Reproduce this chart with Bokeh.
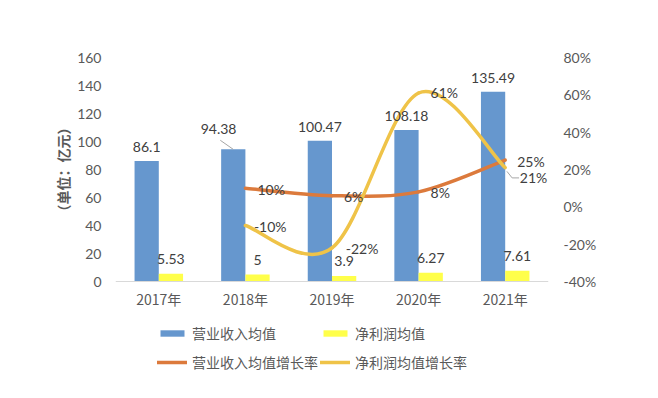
from bokeh.plotting import figure
from bokeh.models import (ColumnDataSource, Range1d, LinearAxis, LabelSet, Legend, Span, Title,
                          LegendItem, PrintfTickFormatter, FixedTicker)
from bokeh.core.properties import value
from bokeh.embed import file_html
from bokeh.resources import INLINE

# ---- data ----
years = ["2017年", "2018年", "2019年", "2020年", "2021年"]
revenue = [86.1, 94.38, 100.47, 108.18, 135.49]
profit = [5.53, 5, 3.9, 6.27, 7.61]
growth_years = ["2018年", "2019年", "2020年", "2021年"]
revenue_growth = [10, 6, 8, 25]
profit_growth = [-10, -22, 61, 21]
left_ticks = [0, 20, 40, 60, 80, 100, 120, 140, 160]
right_ticks = [-40, -20, 0, 20, 40, 60, 80]

# ---- style / layout ----
BLUE = "#6697CE"
YELLOW = "#FFFF4A"
ORANGE = "#DC7A3C"
GOLD = "#EFC348"
TICK = "#595959"
LBL = "#404040"
NUM_FONT = "Lato"
CJK_FONT = "Noto Sans CJK SC"
BW = 0.28
PLOT_H = 224          # px between 0 and the top tick
EXTRA_H = 99          # px below the zero line kept for category labels and legend
rev_label_dx = [0, -0.17, 0, 0, 0]     # data-unit nudges of the revenue labels
rev_label_dy = [14, 20, 14, 14, 14]

xi = list(range(len(years)))
gx = [years.index(y) for y in growth_years]

lo, hi = left_ticks[0], left_ticks[-1]
rlo, rhi = right_ticks[0], right_ticks[-1]
y_start = lo - EXTRA_H * (hi - lo) / PLOT_H
r_start = rlo - EXTRA_H * (rhi - rlo) / PLOT_H

p = figure(frame_width=433, frame_height=PLOT_H + EXTRA_H, x_range=Range1d(-0.5, len(years) - 0.5),
           y_range=Range1d(y_start, hi),
           output_backend="svg", toolbar_location=None,
           min_border_left=115, min_border_right=95, min_border_top=57, min_border_bottom=8)
p.extra_y_ranges = {"pct": Range1d(r_start, rhi)}
p.outline_line_color = None
p.xgrid.visible = False
p.ygrid.visible = False
p.background_fill_color = "white"
p.border_fill_color = "white"
p.xaxis.visible = False

# zero line (category axis line)
p.add_layout(Span(location=lo, dimension="width", line_color="#D9D9D9", line_width=1))

# bars
bsrc = ColumnDataSource(dict(xb=[i - BW / 2 for i in xi], xy=[i + BW / 2 for i in xi],
                             xl=[i - BW / 2 + d for i, d in zip(xi, rev_label_dx)],
                             rev=revenue, pro=profit,
                             rev_t=[f"{v:g}" for v in revenue], pro_t=[f"{v:g}" for v in profit],
                             rev_dy=rev_label_dy))
r_rev = p.vbar(x="xb", top="rev", width=BW, source=bsrc, fill_color=BLUE, line_color=None)
r_pro = p.vbar(x="xy", top="pro", width=BW, source=bsrc, fill_color=YELLOW, line_color=None)

# smooth lines (Excel-style bezier smoothing from the data points)
def bez(xs, ys):
    n = len(xs)
    out = dict(x0=[], y0=[], x1=[], y1=[], cx0=[], cy0=[], cx1=[], cy1=[])
    for i in range(n - 1):
        pxm, pym = (xs[i - 1], ys[i - 1]) if i > 0 else (xs[i], ys[i])
        pxp, pyp = (xs[i + 2], ys[i + 2]) if i + 2 < n else (xs[i + 1], ys[i + 1])
        out["x0"].append(xs[i]); out["y0"].append(ys[i])
        out["x1"].append(xs[i + 1]); out["y1"].append(ys[i + 1])
        out["cx0"].append(xs[i] + (xs[i + 1] - pxm) / 6)
        out["cy0"].append(ys[i] + (ys[i + 1] - pym) / 6)
        out["cx1"].append(xs[i + 1] - (pxp - xs[i]) / 6)
        out["cy1"].append(ys[i + 1] - (pyp - ys[i]) / 6)
    return out

r_rg = p.bezier(source=ColumnDataSource(bez(gx, revenue_growth)), x0="x0", y0="y0", x1="x1", y1="y1",
                cx0="cx0", cy0="cy0", cx1="cx1", cy1="cy1", line_color=ORANGE, line_width=3.5,
                line_cap="round", y_range_name="pct")
r_pg = p.bezier(source=ColumnDataSource(bez(gx, profit_growth)), x0="x0", y0="y0", x1="x1", y1="y1",
                cx0="cx0", cy0="cy0", cx1="cx1", cy1="cy1", line_color=GOLD, line_width=3.5,
                line_cap="round", y_range_name="pct")

# leader lines
lead_x = xi[1] - BW / 2
p.segment(x0=[lead_x], y0=[revenue[1]], x1=[lead_x - 0.15], y1=[revenue[1] + 6.5],
          line_color="#A6A6A6", line_width=1)
k = len(gx) - 1
p.segment(x0=[gx[k] + 0.02, gx[k] + 0.08], y0=[profit_growth[k] - 2, profit_growth[k] - 5.5],
          x1=[gx[k] + 0.08, gx[k] + 0.16], y1=[profit_growth[k] - 5.5, profit_growth[k] - 5.5],
          line_color="#A6A6A6", line_width=1, y_range_name="pct")

# data labels
common = dict(text_font=value(NUM_FONT), text_font_size="14px", text_color=LBL, text_baseline="middle")
p.add_layout(LabelSet(x="xl", y="rev", text="rev_t", source=bsrc, text_align="center",
                      y_offset="rev_dy", **common))
p.add_layout(LabelSet(x="xy", y="pro", text="pro_t", source=bsrc, text_align="center",
                      y_offset=15, **common))
pg_dx = [-0.04, 0.02, 0.0, 0.03]
gsrc = ColumnDataSource(dict(x=gx, xp=[g + d for g, d in zip(gx, pg_dx)],
                             rg=revenue_growth, pg=profit_growth,
                             rg_t=[f"{v}%" for v in revenue_growth],
                             pg_t=[f"{v}%" for v in profit_growth],
                             pg_dy=[-1, -1, 0, -10]))
p.add_layout(LabelSet(x="x", y="rg", text="rg_t", source=gsrc, text_align="left", x_offset=12,
                      y_offset=-1, y_range_name="pct", **common))
p.add_layout(LabelSet(x="xp", y="pg", text="pg_t", source=gsrc, text_align="left", x_offset=12,
                      y_offset="pg_dy", y_range_name="pct", **common))

# category labels under the zero line
csrc = ColumnDataSource(dict(x=xi, y=[lo] * len(xi), t=years))
p.add_layout(LabelSet(x="x", y="y", text="t", source=csrc, text_align="center", text_baseline="middle",
                      y_offset=-17, text_font=value(CJK_FONT), text_font_size="14px", text_color=TICK))

# left axis
ya = p.yaxis[0]
ya.ticker = FixedTicker(ticks=left_ticks)
ya.axis_line_color = None
ya.major_tick_line_color = None
ya.minor_tick_line_color = None
ya.major_tick_out = 0
ya.major_tick_in = 0
ya.major_label_standoff = 14
ya.major_label_text_font = NUM_FONT
ya.major_label_text_font_size = "14px"
ya.major_label_text_color = TICK

unit_title = Title(text="（单位：亿元）", align="left", offset=EXTRA_H + 63,
                   text_font=CJK_FONT, text_font_size="14px", text_font_style="bold",
                   text_color=TICK, standoff=4)
p.add_layout(unit_title, "left")

# right axis
ra = LinearAxis(y_range_name="pct", ticker=FixedTicker(ticks=right_ticks),
                formatter=PrintfTickFormatter(format="%d%%"))
ra.axis_line_color = None
ra.major_tick_line_color = None
ra.minor_tick_line_color = None
ra.major_tick_out = 0
ra.major_tick_in = 0
ra.major_label_standoff = 15
ra.major_label_text_font = NUM_FONT
ra.major_label_text_font_size = "14px"
ra.major_label_text_color = TICK
p.add_layout(ra, "right")

# legend (inside the lower part of the frame)
legend = Legend(items=[
    LegendItem(label="营业收入均值", renderers=[r_rev]),
    LegendItem(label="净利润均值", renderers=[r_pro]),
    LegendItem(label="营业收入均值增长率", renderers=[r_rg]),
    LegendItem(label="净利润均值增长率", renderers=[r_pg]),
], orientation="horizontal", ncols=2, location=(42, EXTRA_H - 94))
legend.label_text_font = CJK_FONT
legend.label_text_font_size = "14px"
legend.label_text_color = TICK
legend.glyph_width = 30
legend.glyph_height = 8
legend.label_height = 27
legend.label_standoff = 5
legend.spacing = 2
legend.padding = 0
legend.margin = 0
legend.border_line_color = None
legend.background_fill_alpha = 0
p.add_layout(legend, "center")

open("out.html", "w").write(file_html(p, INLINE))
